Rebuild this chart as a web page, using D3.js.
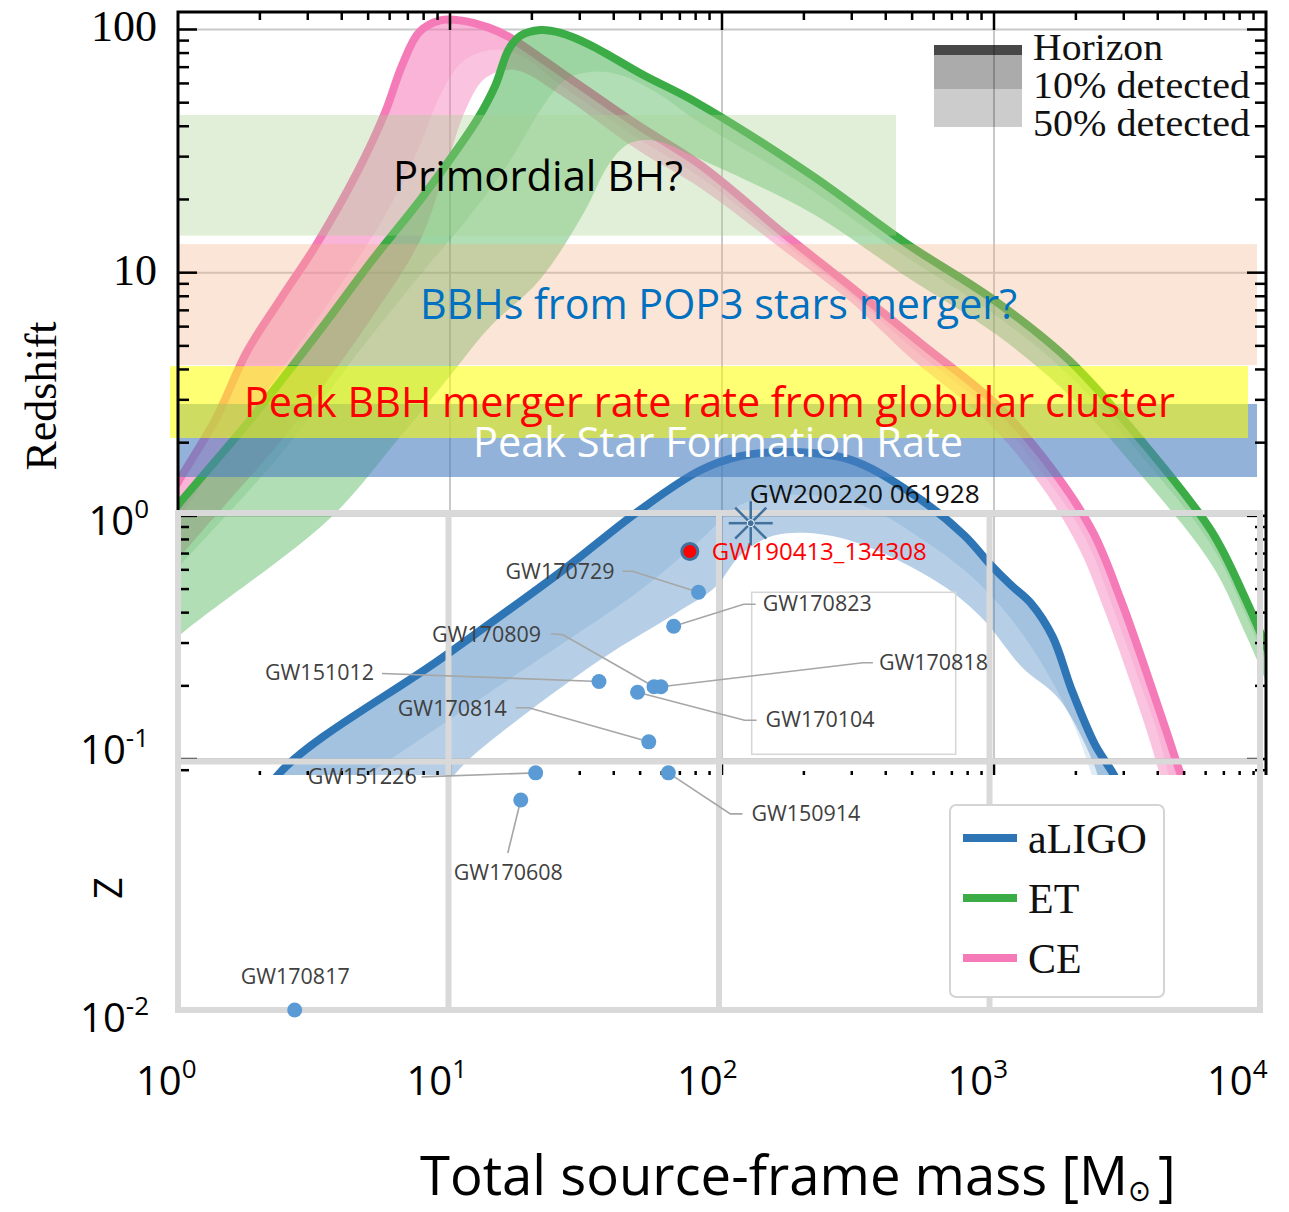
<!DOCTYPE html>
<html>
<head>
<meta charset="utf-8">
<script src="https://cdn.jsdelivr.net/npm/d3@7"></script>
<style>
  body { margin: 0; background: #fff; }
  .serif { font-family: "Liberation Serif", "DejaVu Serif", serif; }
  .sans { font-family: "Open Sans", "Noto Sans", sans-serif; }
</style>
</head>
<body>
<svg id="chart" width="1289" height="1212"></svg>
<script>
// ---- detector curves: [total mass (Msun), redshift] ----
const aligoHorizon = [[1.84,0.051],[2.33,0.086],[9.45,0.263],[25.5,0.588],[50.1,1.06],[83.3,1.54],[117,1.76],[179,1.83],[297,1.70],[477,1.28],[774,0.836],[973,0.628],[1153,0.520],[1366,0.438],[1644,0.318],[1932,0.192],[2349,0.115],[2760,0.086],[3055,0.068]];
const aligo10 = [[4.67,0.082],[18.1,0.228],[50.1,0.496],[83.3,0.796],[117,1.11],[179,1.22],[323,1.11],[585,0.759],[894,0.520],[1202,0.356],[1550,0.232],[2000,0.132],[2420,0.070]];
const aligo50 = [[10.0,0.082],[12.0,0.102],[35.7,0.256],[68.0,0.399],[94.7,0.511],[117,0.690],[153,0.826],[230,0.841],[346,0.745],[659,0.511],[917,0.373],[1265,0.239],[1746,0.175],[2349,0.093],[2472,0.075]];

const etHorizon = [[0.789,0.796],[1.0,1.109],[1.84,2.48],[3.33,5.81],[5.13,11.1],[7.77,19.9],[10.45,31.3],[12.7,43.3],[14.7,59.1],[16.4,82.4],[18.1,94.0],[21.5,99.5],[25.5,96.8],[32.8,86.3],[51.4,65.0],[79.9,50.4],[213,25.2],[466,13.4],[1023,7.58],[1916,4.30],[3586,1.96],[6327,0.859],[8440,0.451],[10890,0.232]];
const et10 = [[0.789,0.451],[1,0.611],[2.37,1.78],[4.67,4.81],[7.77,9.79],[11.9,17.3],[16.7,29.1],[21.5,46.7],[26.5,62.0],[32.8,66.9],[42.3,65.0],[59.4,53.8],[79.9,42.5],[213,21.9],[466,11.8],[1023,6.64],[1916,3.73],[3586,1.70],[6327,0.752],[8440,0.391],[10890,0.200]];
const et50 = [[0.789,0.244],[1.0,0.318],[3.63,0.980],[6.45,2.07],[9.77,3.65],[13.8,5.87],[21.5,9.42],[31.2,17.8],[38.2,27.7],[44.5,33.5],[51.4,35.1],[59.4,34.5],[79.9,29.9],[213,17.6],[466,9.79],[1023,5.55],[1916,3.08],[3586,1.41],[6327,0.628],[8440,0.324],[10890,0.167]];

const ceHorizon = [[0.789,0.875],[1,1.38],[1.37,2.48],[1.79,4.72],[2.37,7.72],[3.22,13.0],[4.56,25.9],[5.78,45.8],[6.67,71.4],[7.71,97.7],[9.21,109],[10.9,109],[13.8,102],[16.5,93.1],[25.5,66.9],[48.9,40.5],[83.3,27.7],[171,14.3],[292,8.90],[547,5.05],[1023,2.86],[1632,1.56],[2309,0.859],[2927,0.451],[3614,0.232],[4285,0.132],[4867,0.086],[5296,0.068]];
const ce10 = [[0.789,0.628],[1,0.962],[2.00,3.00],[3.63,7.72],[5.78,17.3],[7.77,33.5],[9.21,53.8],[11.1,73.5],[14.1,82.3],[18.1,78.6],[25.5,59.2],[48.9,35.8],[83.3,24.7],[171,13.1],[292,8.25],[520,4.72],[973,2.68],[1537,1.46],[2176,0.804],[2735,0.422],[3381,0.218],[4039,0.123],[4550,0.0712]];
const ce50 = [[0.789,0.451],[1,0.659],[2.58,2.26],[5.09,6.39],[7.77,13.6],[9.60,26.4],[11.4,46.7],[13.5,63.2],[17.4,68.2],[25.5,53.8],[48.9,32.0],[83.3,22.3],[171,12.2],[292,7.72],[494,4.46],[932,2.48],[1461,1.37],[2033,0.752],[2578,0.395],[3186,0.204],[3775,0.115],[4215,0.0746]];

// ---- detected events ----
const eventNames = ["GW150914","GW151012","GW151226","GW170104","GW170608","GW170729","GW170809","GW170814","GW170817","GW170818","GW170823"];
const eventMass = [65, 36, 21, 50, 18.5, 84, 57.5, 55, 2.7, 61, 68];
const eventZ = [0.09, 0.21, 0.09, 0.19, 0.07, 0.48, 0.20, 0.12, 0.01, 0.20, 0.35];
const redEvent = { name: "GW190413_134308", mass: 78, z: 0.70 };
const starEvent = { name: "GW200220 061928", mass: 131, z: 0.91 };

// ---- redshift ranges of interest ----
const bandNames = ["Primordial BH?", "BBHs from POP3 stars merger?", "Peak Star Formation Rate", "Peak BBH merger rate rate from globular cluster"];
const bandZLow = [14.2, 4.17, 1.445, 2.09];
const bandZHigh = [44.5, 13.1, 2.885, 4.13];

// ---- tick labels ----
const upYTicks = [100, 10];
const loXTicks = [1, 10, 100, 1000, 10000];
const loXExp = ["0", "1", "2", "3", "4"];
const loYTicks = [1, 0.1, 0.01];
const loYExp = ["0", "-1", "-2"];
const detectors = ["aLIGO", "ET", "CE"];

const svg = d3.select("#chart");

const xUp = d3.scaleLog().domain([1, 1e4]).range([178, 1266]);
const yUp = d3.scaleLog().domain([0.086, 118]).range([775, 12]);
const xLo = d3.scaleLog().domain([1, 1e4]).range([178, 1260]);
const yLo = d3.scaleLog().domain([0.01, 1]).range([1010, 513]);

const color = { aLIGO: "#2e75b6", ET: "#3cac46", CE: "#f47ab8" };

svg.append("defs").append("clipPath").attr("id", "upClip")
  .append("rect").attr("x", 178).attr("y", 12).attr("width", 1088).attr("height", 763);

// ---------------- upper plot (detector horizons) ----------------
const up = svg.append("g");
const upInner = up.append("g").attr("clip-path", "url(#upClip)");

// light grid
[100, 10, 1, 0.1].forEach((v) => {
  upInner.append("line").attr("x1", 178).attr("x2", 1266)
    .attr("y1", yUp(v)).attr("y2", yUp(v))
    .attr("stroke", "#c9c9c9").attr("stroke-width", 2);
});
[10, 100, 1000].forEach((v) => {
  upInner.append("line").attr("x1", xUp(v)).attr("x2", xUp(v))
    .attr("y1", 12).attr("y2", 775)
    .attr("stroke", "#c9c9c9").attr("stroke-width", 2);
});

const line = d3.line()
  .x((d) => xUp(d[0]))
  .y((d) => yUp(d[1]))
  .curve(d3.curveCatmullRom.alpha(0.5));

// closed area between horizon and a lower detection curve
const band = (top, bottom) =>
  line(top) + line(bottom.slice().reverse()).replace(/^M/, "L") + "Z";

function drawDetector(name, horizon, c10, c50, a50, a10) {
  const g = upInner.append("g");
  g.append("path").attr("d", band(horizon, c50))
    .attr("fill", color[name]).attr("fill-opacity", a50);
  g.append("path").attr("d", band(horizon, c10))
    .attr("fill", color[name]).attr("fill-opacity", a10);
  g.append("path").attr("d", line(horizon))
    .attr("fill", "none").attr("stroke", color[name])
    .attr("stroke-width", 8).attr("stroke-linejoin", "round");
}

drawDetector("CE", ceHorizon, ce10, ce50, 0.45, 0.2);
drawDetector("ET", etHorizon, et10, et50, 0.4, 0.18);
drawDetector("aLIGO", aligoHorizon, aligo10, aligo50, 0.35, 0.14);

// annotation bands (drawn over the curves)
const bandStyle = [
  { fill: "#a9d18e", op: 0.35, x0: 180, x1: 896, text: "#000", tx: 393, tw: 290 },
  { fill: "#f4b183", op: 0.33, x0: 178, x1: 1257, text: "#0070c0", tx: 420, tw: 597 },
  { fill: "#4a7ebf", op: 0.6, x0: 178, x1: 1257, text: "#fff", tx: 473, tw: 490 },
  { fill: "#ffff00", op: 0.55, x0: 170, x1: 1248, text: "#ff0000", tx: 244, tw: 931 },
];
const ann = up.append("g");
bandNames.forEach((n, i) => {
  const s = bandStyle[i];
  ann.append("rect")
    .attr("x", s.x0).attr("width", s.x1 - s.x0)
    .attr("y", yUp(bandZHigh[i])).attr("height", yUp(bandZLow[i]) - yUp(bandZHigh[i]))
    .attr("fill", s.fill).attr("fill-opacity", s.op);
});
// texts after all bands so they stay on top
const textBaseline = [191, 319, 457, 417];
bandNames.forEach((n, i) => {
  const s = bandStyle[i];
  ann.append("text").attr("class", "sans")
    .attr("x", s.tx).attr("y", textBaseline[i])
    .attr("font-size", 42).attr("fill", s.text)
    .attr("textLength", s.tw).attr("lengthAdjust", "spacingAndGlyphs")
    .text(n);
});

// frame
up.append("path")
  .attr("d", `M178,775V12H1266V775`)
  .attr("fill", "none").attr("stroke", "#000").attr("stroke-width", 3);

// log ticks
const logVals = [];
for (let e = -2; e <= 4; e++)
  for (let m = 1; m <= 9; m++) logVals.push({ v: m * Math.pow(10, e), major: m === 1 });

const ticks = up.append("g").attr("stroke", "#000").attr("stroke-width", 2.5);
logVals.filter((d) => d.v > 1.001 && d.v < 9999).forEach((d) => {
  const x = xUp(d.v);
  ticks.append("line").attr("x1", x).attr("x2", x).attr("y1", 12).attr("y2", 12 + (d.major ? 18 : 8));
  ticks.append("line").attr("x1", x).attr("x2", x).attr("y1", 775).attr("y2", 775 - (d.major ? 12 : 4));
});
logVals.filter((d) => d.v > 0.086 && d.v < 118).forEach((d) => {
  const y = yUp(d.v);
  const len = d.major ? 19 : 11;
  ticks.append("line").attr("x1", 178).attr("x2", 178 + len).attr("y1", y).attr("y2", y);
  ticks.append("line").attr("x1", 1266).attr("x2", 1266 - len).attr("y1", y).attr("y2", y);
});

upYTicks.forEach((v) => {
  up.append("text").attr("class", "serif")
    .attr("x", 157).attr("y", yUp(v) + 12)
    .attr("text-anchor", "end").attr("font-size", 44)
    .text(v);
});

up.append("text").attr("class", "serif")
  .attr("transform", "translate(56,396) rotate(-90)")
  .attr("text-anchor", "middle").attr("font-size", 44)
  .text("Redshift");

// horizon / detection legend
const lg = up.append("g");
lg.append("rect").attr("x", 934).attr("y", 45).attr("width", 88).attr("height", 10).attr("fill", "#000").attr("fill-opacity", 0.72);
lg.append("rect").attr("x", 934).attr("y", 55).attr("width", 88).attr("height", 34).attr("fill", "#000").attr("fill-opacity", 0.33);
lg.append("rect").attr("x", 934).attr("y", 89).attr("width", 88).attr("height", 38).attr("fill", "#000").attr("fill-opacity", 0.2);
const lgWidth = [130, 217, 217];
["Horizon", "10% detected", "50% detected"].forEach((t, i) => {
  lg.append("text").attr("class", "serif")
    .attr("x", 1033).attr("y", 60 + i * 38)
    .attr("font-size", 38).attr("fill", "#111")
    .attr("textLength", lgWidth[i]).attr("lengthAdjust", "spacingAndGlyphs")
    .text(t);
});

// ---------------- lower plot (observed events) ----------------
const lo = svg.append("g");
const gridC = "#d9d9d9";
loXTicks.forEach((v) => {
  lo.append("line").attr("x1", xLo(v)).attr("x2", xLo(v))
    .attr("y1", 510).attr("y2", 1013)
    .attr("stroke", gridC).attr("stroke-width", 6);
});
loYTicks.forEach((v) => {
  lo.append("line").attr("x1", 175).attr("x2", 1263)
    .attr("y1", yLo(v)).attr("y2", yLo(v))
    .attr("stroke", gridC).attr("stroke-width", 6);
});

// label layout: offsets from the dot, leader polyline offsets
const labelLayout = {
  GW170729: { dx: -193, dy: -13, lead: [[-76, -21], [-66, -21], [0, 0]] },
  GW170823: { dx: 89, dy: -15, lead: [[0, 0], [70, -22], [82, -22]] },
  GW170809: { dx: -222, dy: -45, lead: [[-103, -53], [-91, -52], [0, 0]] },
  GW170818: { dx: 218, dy: -17, lead: [[0, 0], [202, -24], [212, -24]] },
  GW151012: { dx: -334, dy: -1, lead: [[-217, -8], [0, 0]] },
  GW170104: { dx: 128, dy: 35, lead: [[0, 0], [107, 28], [119, 28]] },
  GW170814: { dx: -251, dy: -26, lead: [[-133, -34], [-120, -34], [0, 0]] },
  GW151226: { dx: -228, dy: 11, lead: [[-114, 4], [0, 0]] },
  GW150914: { dx: 83, dy: 48, lead: [[0, 0], [62, 41], [74, 41]] },
  GW170608: { dx: -67, dy: 80, lead: [[0, 0], [-13, 53]] },
  GW170817: { dx: -54, dy: -26, lead: null },
};

const events = eventNames.map((n, i) => ({ name: n, x: xLo(eventMass[i]), y: yLo(eventZ[i]) }));

// thin outlined box around the GW170823 label area
const e823 = events.find((e) => e.name === "GW170823");
lo.append("rect")
  .attr("x", e823.x + 78).attr("y", e823.y - 34)
  .attr("width", 204).attr("height", 162)
  .attr("fill", "none").attr("stroke", "#d6d6d6").attr("stroke-width", 1.5);

events.forEach((e) => {
  const L = labelLayout[e.name];
  if (L.lead) {
    lo.append("path")
      .attr("d", d3.line()(L.lead.map((p) => [e.x + p[0], e.y + p[1]])))
      .attr("fill", "none").attr("stroke", "#a6a6a6").attr("stroke-width", 1.6);
  }
});
lo.selectAll("circle.ev").data(events).join("circle")
  .attr("class", "ev")
  .attr("cx", (d) => d.x).attr("cy", (d) => d.y).attr("r", 7.5)
  .attr("fill", "#5b9bd5");
events.forEach((e) => {
  const L = labelLayout[e.name];
  lo.append("text").attr("class", "sans")
    .attr("x", e.x + L.dx).attr("y", e.y + L.dy)
    .attr("font-size", 21).attr("fill", "#404040")
    .attr("textLength", 109).attr("lengthAdjust", "spacingAndGlyphs")
    .text(e.name);
});

// highlighted event
const rx = xLo(redEvent.mass), ry = yLo(redEvent.z);
lo.append("circle").attr("cx", rx).attr("cy", ry).attr("r", 8)
  .attr("fill", "#ff0000").attr("stroke", "#41719c").attr("stroke-width", 3);
lo.append("text").attr("class", "sans")
  .attr("x", rx + 22).attr("y", ry + 9)
  .attr("font-size", 24).attr("fill", "#ff0000")
  .attr("textLength", 215).attr("lengthAdjust", "spacingAndGlyphs")
  .text(redEvent.name);

// star marker
const sx = xLo(starEvent.mass), sy = yLo(starEvent.z);
const star = lo.append("g").attr("transform", `translate(${sx},${sy})`)
  .attr("stroke", "#41719c").attr("stroke-width", 2.5);
d3.range(8).forEach((k) => {
  const a = (k * Math.PI) / 4;
  star.append("line").attr("x1", 0).attr("y1", 0)
    .attr("x2", 22 * Math.cos(a)).attr("y2", 22 * Math.sin(a));
});
star.append("circle").attr("r", 3.5).attr("fill", "#41719c").attr("stroke", "#fff").attr("stroke-width", 1);
lo.append("text").attr("class", "sans")
  .attr("x", sx - 1).attr("y", sy - 20)
  .attr("font-size", 26).attr("fill", "#111")
  .attr("textLength", 230).attr("lengthAdjust", "spacingAndGlyphs")
  .text(starEvent.name);

// tick labels with exponents
function powText(g, x, y, exp, anchor) {
  const t = g.append("text").attr("class", "sans")
    .attr("x", x).attr("y", y).attr("font-size", 40)
    .attr("text-anchor", anchor).attr("fill", "#000");
  t.append("tspan").text("10");
  t.append("tspan").attr("font-size", 26).attr("dy", -17).text(exp);
}
loXTicks.forEach((v, i) => powText(lo, Math.min(xLo(v) - 42, 1207), 1095, loXExp[i], "start"));
loYTicks.forEach((v, i) => powText(lo, 149, yLo(v) + (v === 0.1 ? 2 : 22), loYExp[i], "end"));

lo.append("text").attr("class", "sans")
  .attr("transform", "translate(122,888) rotate(-90)")
  .attr("text-anchor", "middle").attr("font-size", 38)
  .text("Z");

lo.append("text").attr("class", "sans")
  .attr("x", 420).attr("y", 1195).attr("font-size", 54)
  .attr("textLength", 708).attr("lengthAdjust", "spacingAndGlyphs")
  .text("Total source-frame mass [M");
lo.append("text").attr("font-family", "DejaVu Sans, sans-serif")
  .attr("x", 1128).attr("y", 1201).attr("font-size", 30)
  .attr("textLength", 23).attr("lengthAdjust", "spacingAndGlyphs")
  .text("⊙");
lo.append("text").attr("class", "sans")
  .attr("x", 1158).attr("y", 1195).attr("font-size", 54)
  .text("]");

// detector legend
const leg = svg.append("g");
leg.append("rect").attr("x", 950).attr("y", 805).attr("width", 214).attr("height", 192)
  .attr("rx", 6).attr("fill", "#fff").attr("stroke", "#d4d4d4").attr("stroke-width", 2);
detectors.forEach((d, i) => {
  const y = 838 + i * 60;
  leg.append("line").attr("x1", 963).attr("x2", 1017).attr("y1", y).attr("y2", y)
    .attr("stroke", color[d]).attr("stroke-width", 8);
  leg.append("text").attr("class", "serif")
    .attr("x", 1028).attr("y", y + 15).attr("font-size", 42).attr("fill", "#111")
    .text(d);
});
</script>
</body>
</html>
